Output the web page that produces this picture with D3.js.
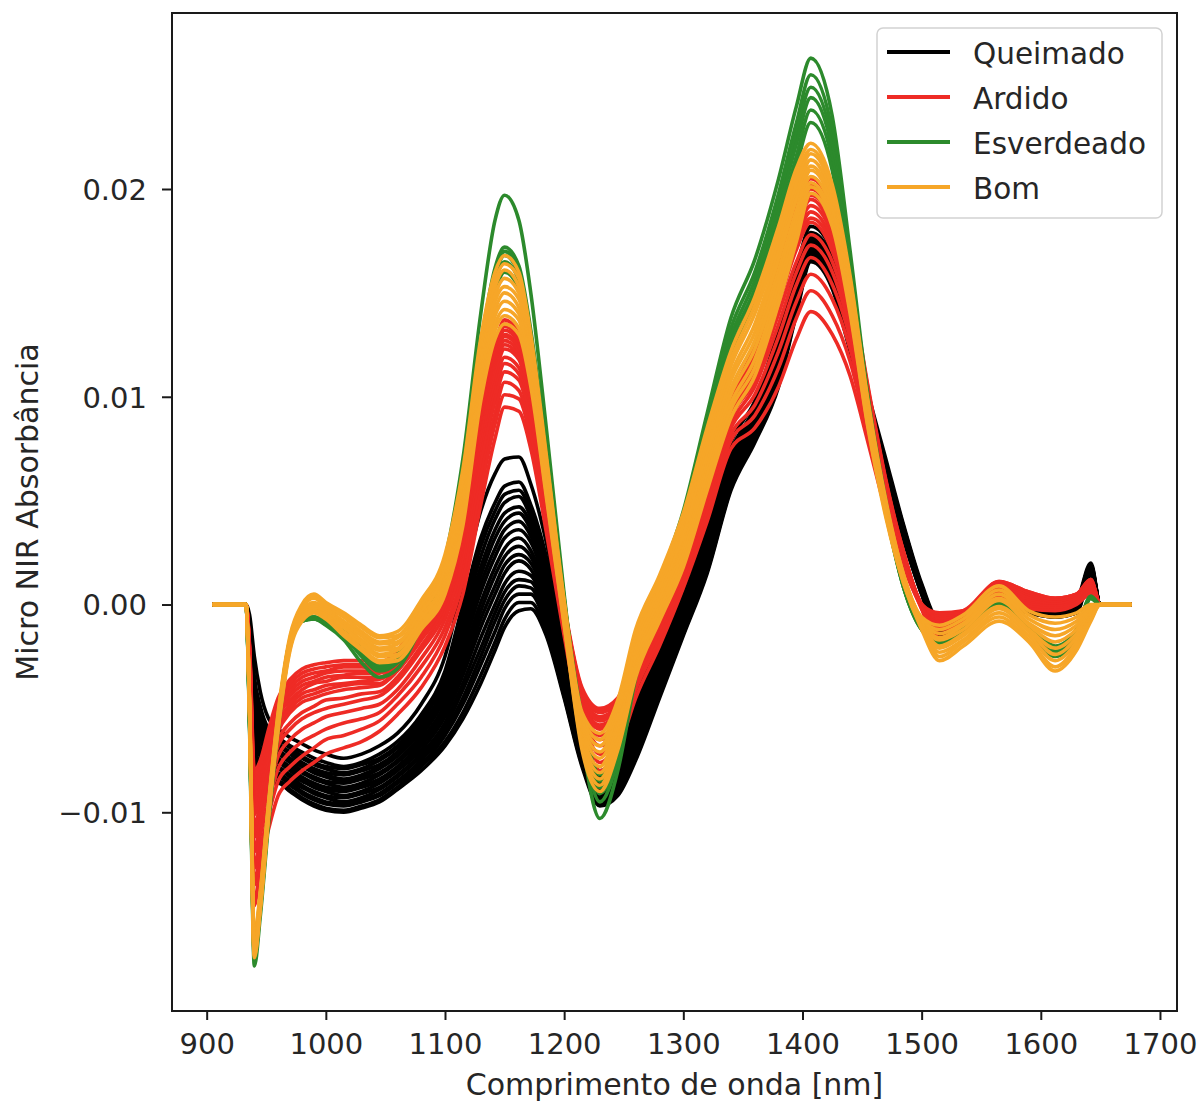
<!DOCTYPE html>
<html><head><meta charset="utf-8">
<script src="https://cdn.jsdelivr.net/npm/d3@7"></script>
<style>
body{margin:0;background:#fff}
svg{display:block}
text{font-family:"DejaVu Sans",sans-serif;fill:#262626}
</style>
</head><body>
<svg id="c" width="1198" height="1104"></svg>
<script>
// wavelength grid (nm)
const wavelengths = [905,933,936,940,945,952,960,970,980,990,1000,1015,1030,1045,1060,1080,1100,1115,1130,1142,1150,1162,1172,1185,1200,1215,1230,1245,1260,1280,1300,1320,1340,1360,1380,1395,1407,1425,1440,1455,1470,1485,1500,1515,1535,1565,1590,1612,1630,1642,1650,1676];
// absorbance values, in units of 1e-4
const UNIT = 1e-4;
const queimado = [
[0,0,-5,-25,-42,-55,-60,-64,-67,-70,-72,-74,-72,-68,-62,-48,-25,10,45,63,70,71,58,30,-15,-60,-80,-70,-42,-18,8,38,78,98,132,162,182,170,140,102,70,38,10,-8,-6,8,2,-2,2,20,0,0],
[0,0,-9,-35,-49,-60,-64,-68,-71,-74,-76,-78,-76,-72,-66,-53,-32,0,32,49,57,59,48,23,-20,-63,-83,-74,-47,-22,4,34,74,95,128,158,179,167,137,100,68,37,9,-9,-7,7,1,-3,1,19,0,0],
[0,0,-10,-38,-52,-62,-65,-69,-73,-76,-78,-79,-77,-74,-68,-55,-34,-4,28,45,53,55,45,21,-21,-64,-84,-75,-49,-24,3,33,73,94,126,157,178,166,136,100,68,37,9,-9,-7,6,1,-3,1,19,0,0],
[0,0,-12,-41,-54,-63,-67,-71,-74,-77,-79,-81,-79,-75,-69,-56,-36,-7,23,41,49,52,42,18,-23,-65,-84,-76,-51,-25,2,32,72,93,125,156,178,165,135,99,67,36,9,-10,-8,6,0,-3,0,18,0,0],
[0,0,-13,-44,-57,-65,-68,-72,-76,-79,-81,-82,-80,-77,-71,-58,-39,-11,18,36,44,47,39,16,-25,-66,-85,-77,-53,-27,1,31,71,92,123,155,177,164,134,99,67,36,8,-10,-8,5,0,-3,0,18,0,0],
[0,0,-14,-47,-59,-66,-70,-74,-77,-80,-82,-84,-82,-78,-72,-60,-41,-14,14,32,40,44,36,13,-26,-67,-86,-78,-54,-28,0,30,70,91,122,154,176,163,133,98,66,35,8,-11,-9,5,0,-3,0,18,0,0],
[0,0,-16,-50,-61,-68,-71,-75,-78,-81,-83,-85,-83,-79,-73,-61,-43,-17,10,27,36,40,33,11,-28,-68,-87,-79,-56,-29,-2,28,68,90,121,153,175,162,132,98,66,35,8,-11,-9,5,-1,-4,-1,17,0,0],
[0,0,-17,-53,-64,-70,-72,-76,-80,-83,-85,-86,-84,-81,-75,-63,-45,-21,6,23,32,36,30,9,-29,-69,-88,-80,-58,-31,-3,27,67,89,119,152,174,162,132,97,65,35,8,-11,-9,4,-1,-4,-1,17,0,0],
[0,0,-18,-57,-66,-71,-74,-78,-81,-84,-86,-88,-86,-82,-76,-65,-48,-25,1,18,27,32,26,6,-31,-70,-89,-82,-60,-32,-4,26,66,87,118,150,173,160,130,97,65,34,7,-12,-10,4,-1,-4,-1,17,0,0],
[0,0,-20,-60,-69,-73,-75,-79,-83,-86,-88,-89,-87,-84,-78,-67,-50,-28,-3,14,23,28,23,4,-32,-70,-90,-83,-61,-34,-5,25,65,86,116,149,172,160,130,96,64,34,7,-12,-10,3,-1,-4,-1,17,0,0],
[0,0,-21,-63,-71,-75,-76,-80,-84,-87,-89,-90,-88,-85,-79,-68,-52,-31,-7,9,19,24,20,2,-34,-71,-91,-84,-63,-35,-7,23,63,85,115,148,171,159,129,96,64,34,7,-12,-10,3,-2,-5,-2,16,0,0],
[0,0,-22,-66,-73,-76,-78,-82,-85,-88,-90,-92,-90,-86,-80,-70,-54,-34,-11,5,15,21,17,-1,-35,-72,-92,-85,-64,-36,-8,22,62,84,114,147,170,158,128,95,63,33,7,-13,-11,3,-2,-5,-2,16,0,0],
[0,0,-24,-69,-76,-78,-79,-83,-87,-90,-92,-93,-91,-88,-82,-72,-57,-38,-16,0,10,16,14,-3,-37,-73,-93,-86,-66,-38,-9,21,61,83,112,146,169,157,127,95,63,33,6,-13,-11,2,-2,-5,-2,16,0,0],
[0,0,-25,-72,-78,-80,-81,-85,-88,-91,-93,-95,-93,-89,-83,-73,-59,-41,-21,-4,6,12,11,-6,-39,-74,-93,-87,-68,-39,-10,20,60,82,111,145,169,156,126,94,62,32,6,-14,-12,2,-3,-5,-3,15,0,0],
[0,0,-26,-75,-81,-81,-82,-86,-90,-93,-95,-96,-94,-91,-85,-75,-61,-45,-25,-8,2,9,8,-8,-40,-75,-94,-89,-70,-41,-11,19,59,81,109,143,168,155,125,94,62,32,6,-14,-12,1,-3,-5,-3,15,0,0],
[0,0,-27,-78,-83,-83,-83,-87,-91,-94,-96,-97,-95,-92,-86,-77,-63,-48,-29,-13,-2,5,5,-10,-42,-76,-95,-90,-71,-42,-13,17,57,80,108,142,167,154,124,93,61,32,6,-14,-12,1,-3,-6,-3,15,0,0],
[0,0,-29,-82,-86,-85,-85,-89,-93,-96,-98,-99,-97,-94,-88,-78,-66,-52,-34,-18,-7,1,1,-13,-44,-77,-96,-91,-73,-44,-14,16,56,79,106,141,166,153,123,92,60,31,5,-15,-13,0,-4,-6,-4,14,0,0],
[0,0,-30,-85,-88,-86,-86,-90,-94,-97,-99,-100,-98,-95,-89,-80,-68,-55,-38,-22,-11,-3,-2,-15,-45,-78,-97,-92,-75,-45,-15,15,55,78,105,140,165,152,122,92,60,31,5,-15,-13,0,-4,-6,-4,14,0,0]
];
const ardido = [
[0,0,-20,-80,-75,-60,-45,-36,-31,-29,-28,-27,-27,-28,-22,-5,12,42,95,125,137,130,105,60,0,-40,-50,-45,-20,0,30,65,100,125,165,192,205,190,155,105,60,25,0,-4,-3,11,6,3,5,12,0,0],
[0,0,-21,-83,-77,-62,-47,-38,-33,-31,-30,-29,-29,-29,-23,-6,11,41,93,123,135,129,104,59,-1,-41,-51,-46,-21,-1,29,64,99,123,163,189,202,188,153,104,59,25,0,-5,-3,11,6,3,5,12,0,0],
[0,0,-22,-85,-79,-64,-49,-40,-35,-33,-32,-30,-30,-31,-24,-8,9,39,91,121,134,127,103,58,-1,-42,-52,-47,-22,-2,28,63,98,122,160,187,200,185,151,103,59,24,0,-5,-4,10,5,3,5,11,0,0],
[0,0,-22,-88,-81,-66,-51,-42,-37,-35,-33,-32,-32,-32,-26,-9,8,38,89,120,132,126,101,57,-2,-42,-54,-48,-23,-2,27,62,97,120,158,184,197,183,150,102,58,24,0,-6,-4,10,5,2,4,11,0,0],
[0,0,-23,-90,-83,-68,-53,-44,-39,-37,-35,-34,-33,-33,-27,-11,7,36,87,118,130,124,100,56,-2,-43,-55,-49,-24,-3,26,61,96,119,155,182,195,180,148,101,58,24,0,-7,-5,10,5,2,4,11,0,0],
[0,0,-24,-93,-85,-70,-54,-46,-41,-38,-37,-35,-35,-35,-28,-12,6,35,86,116,129,123,99,55,-3,-44,-56,-50,-25,-4,26,60,95,117,153,179,192,178,146,100,57,24,0,-7,-5,9,4,2,4,11,0,0],
[0,0,-25,-96,-88,-72,-57,-48,-43,-41,-39,-38,-37,-36,-30,-14,4,33,83,114,127,121,98,54,-4,-45,-58,-51,-26,-5,25,59,94,115,150,176,189,175,144,98,56,23,-1,-8,-6,9,4,2,4,10,0,0],
[0,0,-26,-99,-90,-74,-59,-50,-45,-43,-41,-39,-38,-38,-31,-15,3,31,81,112,125,119,96,53,-4,-46,-59,-52,-27,-6,24,58,93,113,148,173,186,173,142,97,56,23,-1,-9,-6,9,4,1,4,10,0,0],
[0,0,-27,-101,-92,-76,-61,-52,-47,-45,-43,-41,-40,-39,-32,-17,1,30,79,110,123,118,95,52,-5,-47,-60,-53,-28,-7,23,57,92,112,145,171,184,170,140,96,55,23,-1,-9,-7,8,3,1,3,10,0,0],
[0,0,-28,-107,-96,-80,-65,-57,-52,-49,-46,-45,-43,-42,-35,-20,-1,26,75,106,119,114,92,50,-6,-48,-63,-56,-30,-8,21,55,90,108,140,165,178,165,136,94,54,22,-1,-11,-8,8,3,0,3,9,0,0],
[0,0,-30,-112,-100,-84,-68,-60,-55,-52,-50,-48,-46,-44,-37,-22,-4,23,71,102,116,111,90,48,-7,-50,-65,-57,-32,-10,19,52,87,105,135,160,173,160,132,91,52,21,-1,-12,-9,7,2,0,3,9,0,0],
[0,0,-32,-119,-105,-89,-73,-65,-60,-57,-54,-52,-50,-48,-41,-26,-7,20,67,98,112,108,87,45,-9,-52,-68,-60,-35,-12,17,50,85,101,129,154,167,154,128,89,51,21,-1,-14,-10,6,1,-1,2,8,0,0],
[0,0,-34,-127,-111,-95,-79,-71,-66,-63,-60,-57,-55,-52,-44,-30,-11,15,61,92,107,103,83,42,-11,-54,-72,-63,-38,-14,14,47,82,96,122,146,159,147,123,86,49,20,-1,-16,-11,5,0,-1,1,7,0,0],
[0,0,-37,-135,-118,-101,-85,-78,-73,-69,-65,-63,-60,-56,-48,-35,-15,11,55,87,101,99,80,39,-13,-57,-76,-66,-41,-17,11,44,79,91,114,138,151,139,117,82,47,19,-2,-18,-12,4,-1,-2,1,6,0,0],
[0,0,-40,-145,-125,-108,-92,-85,-80,-76,-72,-69,-66,-61,-53,-40,-20,5,48,80,95,93,75,35,-15,-60,-80,-70,-45,-20,8,40,75,85,105,128,141,130,110,78,45,18,-2,-20,-14,3,-2,-3,0,5,0,0]
];
const esverdeado = [
[0,0,-60,-174,-150,-105,-60,-20,-8,-7,-10,-17,-28,-35,-31,-10,22,70,140,185,197,185,150,85,5,-65,-103,-80,-35,10,45,92,138,166,205,240,263,235,170,100,50,10,-12,-20,-12,0,-12,-25,-15,3,0,0],
[0,0,-58,-170,-147,-102,-58,-19,-7,-6,-9,-15,-25,-32,-28,-9,20,62,125,162,172,163,132,75,3,-62,-95,-75,-33,9,42,88,133,160,198,232,255,228,165,98,48,9,-11,-19,-11,1,-11,-24,-14,4,0,0],
[0,0,-57,-168,-145,-100,-57,-18,-7,-6,-8,-14,-24,-31,-27,-8,19,60,122,160,170,161,130,73,2,-60,-91,-72,-31,8,40,85,129,156,193,227,249,223,162,96,47,9,-11,-18,-10,1,-10,-22,-13,4,0,0],
[0,0,-56,-167,-144,-99,-56,-18,-8,-7,-9,-14,-23,-30,-26,-8,18,58,120,158,168,159,128,71,1,-58,-88,-70,-30,7,38,82,126,152,189,222,244,219,159,94,46,8,-12,-19,-11,0,-11,-23,-14,3,0,0],
[0,0,-55,-165,-142,-97,-55,-17,-7,-6,-8,-13,-22,-29,-25,-7,18,57,117,155,165,156,126,70,1,-56,-85,-68,-29,7,37,80,122,149,184,216,238,214,156,92,45,8,-12,-18,-10,0,-10,-21,-12,3,0,0],
[0,0,-55,-163,-140,-96,-54,-17,-8,-7,-9,-13,-21,-28,-24,-7,17,55,113,150,160,152,122,67,0,-54,-82,-66,-28,6,36,78,119,145,180,211,232,209,152,90,44,8,-12,-17,-10,0,-10,-20,-12,3,0,0]
];
const bom = [
[0,0,-48,-160,-138,-95,-52,-15,0,5,1,-4,-10,-15,-13,2,24,65,128,160,168,160,130,72,2,-52,-62,-46,-12,14,44,85,122,148,182,210,222,202,158,98,50,14,-6,-10,-5,9,-3,-6,-4,0,0,0],
[0,0,-48,-161,-139,-96,-53,-16,-1,4,0,-5,-11,-16,-15,0,22,62,125,156,164,157,127,70,1,-54,-65,-49,-15,12,41,82,118,144,178,206,219,200,156,97,49,14,-7,-12,-7,7,-5,-9,-6,-1,0,0],
[0,0,-49,-162,-140,-97,-54,-17,-2,3,-1,-6,-13,-18,-16,-1,20,59,121,153,161,153,125,68,-1,-56,-68,-51,-17,9,38,78,115,140,174,202,217,198,154,95,48,13,-7,-14,-9,5,-7,-12,-8,-2,0,0],
[0,0,-49,-163,-141,-97,-55,-17,-3,1,-2,-8,-14,-19,-18,-3,18,56,118,149,157,150,122,65,-2,-58,-71,-54,-20,7,35,75,111,135,170,198,214,195,152,94,47,13,-8,-16,-10,3,-9,-15,-10,-3,0,0],
[0,0,-50,-164,-142,-98,-56,-18,-4,0,-3,-9,-15,-21,-19,-4,16,53,115,146,153,147,119,63,-3,-60,-74,-57,-22,4,33,72,108,131,166,195,211,193,150,92,46,12,-9,-17,-12,2,-10,-18,-12,-4,0,0],
[0,0,-50,-166,-143,-99,-56,-19,-4,-1,-4,-10,-17,-22,-21,-6,13,50,111,142,150,143,116,61,-5,-62,-78,-59,-25,2,29,68,104,127,161,190,209,191,148,91,46,12,-9,-20,-14,-1,-12,-21,-14,-5,0,0],
[0,0,-51,-167,-144,-100,-57,-20,-5,-2,-5,-11,-18,-24,-22,-7,11,47,108,139,146,140,113,59,-6,-64,-81,-62,-27,-1,27,65,101,123,157,187,206,189,146,89,45,11,-10,-21,-15,-2,-13,-24,-16,-6,0,0],
[0,0,-51,-168,-145,-100,-58,-20,-6,-3,-5,-13,-19,-25,-24,-9,9,44,105,135,142,137,110,56,-7,-66,-84,-65,-30,-3,24,62,97,118,153,183,203,186,144,88,44,11,-11,-23,-17,-4,-15,-27,-18,-6,0,0],
[0,0,-52,-169,-146,-101,-59,-21,-7,-3,-6,-14,-21,-27,-25,-10,7,41,101,132,139,133,108,54,-9,-68,-87,-67,-32,-6,21,58,94,114,149,179,201,184,142,86,43,10,-11,-25,-18,-6,-17,-30,-20,-7,0,0],
[0,0,-52,-170,-147,-102,-60,-22,-8,-4,-7,-15,-22,-28,-27,-12,5,38,98,128,135,130,105,52,-10,-70,-90,-70,-35,-8,18,55,90,110,145,175,198,182,140,85,42,10,-12,-27,-20,-8,-18,-32,-22,-8,0,0]
];
const categories = ["Queimado","Ardido","Esverdeado","Bom"];
const colors = ["#000000","#ee2b25","#2c8a2c","#f6a628"];
const xTicks = [900,1000,1100,1200,1300,1400,1500,1600,1700];
const yTicks = [-0.01,0,0.01,0.02];
const yTickLabels = ["\u22120.01","0.00","0.01","0.02"];
const xLabel = "Comprimento de onda [nm]";
const yLabel = "Micro NIR Absorb\u00e2ncia";

const series = [queimado, ardido, esverdeado, bom];

const svg = d3.select("#c");
const M = {left:172, right:1177, top:13, bottom:1011};
const x = d3.scaleLinear().domain([870.9, 1714.3]).range([M.left, M.right]);
const y = d3.scaleLinear().domain([-0.019564, 0.028471]).range([M.bottom, M.top]);

svg.append("defs").append("clipPath").attr("id","clip")
  .append("rect").attr("x",M.left).attr("y",M.top)
  .attr("width",M.right-M.left).attr("height",M.bottom-M.top);

const line = d3.line()
  .x((d,i)=>x(wavelengths[i]))
  .y(d=>y(d*UNIT))
  .curve(d3.curveMonotoneX);

const plot = svg.append("g").attr("clip-path","url(#clip)");
series.forEach((curves,ci)=>{
  plot.append("g").selectAll("path").data(curves).join("path")
    .attr("d",line)
    .attr("fill","none")
    .attr("stroke",colors[ci])
    .attr("stroke-width",3.6)
    .attr("stroke-linejoin","round");
});

const FS = "29px";
// axes
const xAxis = d3.axisBottom(x).tickValues(xTicks).tickSize(9).tickPadding(0).tickFormat(d3.format("d"));
const gx = svg.append("g").attr("transform",`translate(0,${M.bottom})`).call(xAxis);
gx.select(".domain").remove();
gx.selectAll(".tick line").attr("stroke","#1a1a1a").attr("stroke-width",2);
gx.selectAll(".tick text").attr("y",43).attr("dy",null)
  .style("font-family",'"DejaVu Sans",sans-serif').style("font-size",FS).attr("fill","#262626");

const yAxis = d3.axisLeft(y).tickValues(yTicks).tickSize(10).tickPadding(0)
  .tickFormat(d=>yTickLabels[yTicks.indexOf(d)]);
const gy = svg.append("g").attr("transform",`translate(${M.left},0)`).call(yAxis);
gy.select(".domain").remove();
gy.selectAll(".tick line").attr("stroke","#1a1a1a").attr("stroke-width",2);
gy.selectAll(".tick text").attr("x",-25).attr("dy","0.36em")
  .style("font-family",'"DejaVu Sans",sans-serif').style("font-size",FS).attr("fill","#262626");

svg.append("rect").attr("x",M.left).attr("y",M.top)
  .attr("width",M.right-M.left).attr("height",M.bottom-M.top)
  .attr("fill","none").attr("stroke","#1a1a1a").attr("stroke-width",2);

svg.append("text").attr("x",(M.left+M.right)/2).attr("y",1095)
  .attr("text-anchor","middle").style("font-size","30px").text(xLabel);
svg.append("text").attr("transform",`translate(38,${(M.top+M.bottom)/2}) rotate(-90)`)
  .attr("text-anchor","middle").style("font-size","30px").text(yLabel);

// legend
const lg = svg.append("g");
lg.append("rect").attr("x",877).attr("y",28).attr("width",285).attr("height",190)
  .attr("rx",6).attr("fill","#ffffff").attr("fill-opacity",0.85)
  .attr("stroke","#d2d2d2").attr("stroke-width",1.5);
categories.forEach((c,i)=>{
  const ly = 52 + i*45;
  lg.append("line").attr("x1",887).attr("x2",950).attr("y1",ly).attr("y2",ly)
    .attr("stroke",colors[i]).attr("stroke-width",4);
  lg.append("text").attr("x",973).attr("y",ly+12).style("font-size","29.5px").text(c);
});
</script>
</body></html>
